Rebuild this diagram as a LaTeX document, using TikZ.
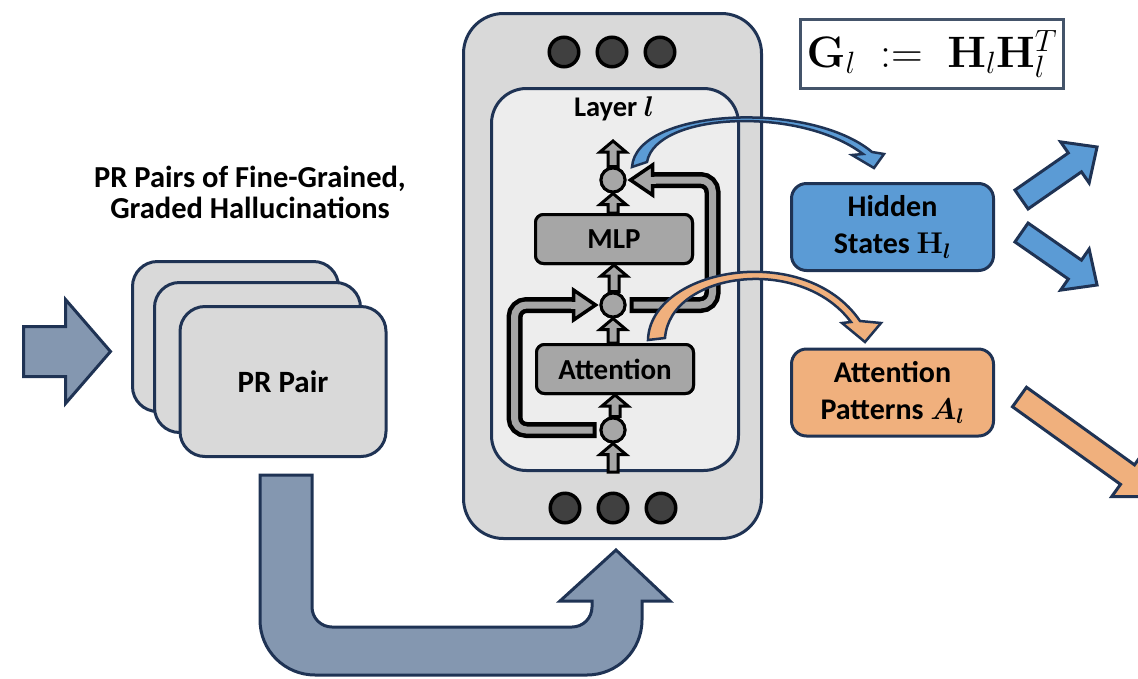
\RequirePackage{fix-cm}
\documentclass[tikz,border=0pt]{standalone}
\usepackage[no-math]{fontspec}
\setmainfont{Carlito}
\usepackage{bm}
\usetikzlibrary{calc}

\definecolor{navy}{HTML}{1F3354}
\definecolor{slate}{HTML}{8497B0}
\definecolor{cardgray}{HTML}{D9D9D9}
\definecolor{layergray}{HTML}{EDEDED}
\definecolor{blkgray}{HTML}{A6A6A6}
\definecolor{dotgray}{HTML}{404040}
\definecolor{hidblue}{HTML}{5B9BD5}
\definecolor{attorange}{HTML}{F0B07D}
\definecolor{gramedge}{HTML}{44546A}

\tikzset{
  txt/.style={font=\fontsize{30}{37}\selectfont\bfseries, align=center},
  card/.style={draw=navy, line width=3pt, fill=cardgray, rounded corners=25pt,
    minimum width=206pt, minimum height=150pt, txt},
  device/.style={draw=navy, line width=3pt, fill=cardgray, rounded corners=40pt,
    minimum width=298pt, minimum height=525pt},
  layerbox/.style={draw=navy, line width=3pt, fill=layergray, rounded corners=35pt,
    minimum width=247pt, minimum height=382pt},
  dot/.style={circle, draw=black, line width=3.5pt, fill=dotgray, minimum size=29.5pt, inner sep=0pt},
  addc/.style={circle, draw=black, line width=3pt, fill=blkgray, minimum size=24pt, inner sep=0pt},
  block/.style={draw=black, line width=3pt, fill=blkgray, rounded corners=8pt,
    minimum width=157pt, minimum height=49pt, font=\fontsize{29}{34}\selectfont\bfseries},
  outbox/.style={draw=navy, line width=3pt, rounded corners=15pt,
    minimum width=202pt, minimum height=87pt, txt},
  gram/.style={draw=gramedge, line width=2.5pt, fill=white,
    minimum width=263pt, minimum height=69pt, inner sep=0pt, font=\fontsize{44}{48}\selectfont},
  blkarrow/.style={draw=black, line width=3pt, fill=blkgray, line join=miter},
  loopblack/.style={draw=black, line width=16pt, rounded corners=12pt},
  loopgray/.style={draw=blkgray, line width=7pt, rounded corners=12pt},
  loophead/.style={draw=black, line width=3.5pt, fill=blkgray, line join=miter},
  slatearrow/.style={draw=navy, line width=3pt, fill=slate, line join=miter},
  bluearrow/.style={draw=navy, line width=3pt, fill=hidblue, line join=miter},
  orangearrow/.style={draw=navy, line width=3pt, fill=attorange, line join=miter},
  ribbon/.style={draw=navy, line width=2.5pt, line join=miter}
}

% small hollow arrow pointing up, from #1 to the tip #2
\newcommand{\blkup}[2]{%
  \draw[blkarrow] let \p1=(#1), \p2=(#2) in
    (\x2-5pt,\y1) -- (\x2-5pt,\y2-11pt) -- (\x2-13pt,\y2-11pt) -- (\x2,\y2)
    -- (\x2+13pt,\y2-11pt) -- (\x2+5pt,\y2-11pt) -- (\x2+5pt,\y1) -- cycle;}

% fat arrow: tail, angle, length, head length, shaft half width, head half width, style
\newcommand{\fatarrow}[7]{%
  \draw[#7, shift={#1}, rotate=#2] (0,-#5) -- (#3-#4,-#5) -- (#3-#4,-#6) -- (#3,0)
    -- (#3-#4,#6) -- (#3-#4,#5) -- (0,#5) -- cycle;}

\begin{document}
\begin{tikzpicture}[x=1pt, y=-1pt]
\clip (0,0) rectangle (1138,678);

% input arrow and the stack of pairs
\fatarrow{(23.5,351.5)}{0}{87}{45}{25}{52}{slatearrow}
\node[txt, font=\fontsize{30.5}{31}\selectfont\bfseries] (title) at (250,192)
  {PR Pairs of Fine-Grained,\\Graded Hallucinations};
\node[card] (card3) at (235.5,336.5) {};
\node[card] (card2) at (257.5,357.5) {};
\node[card, font=\fontsize{31}{36}\selectfont\bfseries] (card1) at (283,381.5) {PR Pair};

% the pair goes into the model
\draw[slatearrow] (260,475) -- (312,475) -- (312,607) arc[start angle=180, end angle=90, radius=20]
  -- (572,627) arc[start angle=90, end angle=0, radius=20] -- (592,601) -- (560,601)
  -- (616,550) -- (670,601) -- (642,601) -- (642,620) arc[start angle=0, end angle=90, radius=55]
  -- (315,675) arc[start angle=90, end angle=180, radius=55] -- cycle;

% the model
\node[device] (dev) at (612.5,276) {};
\foreach \x in {564,612,660}
  \node[dot] (top\x) at (\x,52) {};
\foreach \x in {565,613,661}
  \node[dot] (bot\x) at (\x,508) {};
\node[layerbox] (layer) at (615,279.5) {};
\node[txt, font=\fontsize{28.5}{32}\selectfont\bfseries] (lname) at (614,109) {Layer $\bm{l}$};

% one transformer layer
\coordinate (lin) at (613,472);
\coordinate (lout) at (613,141);
\node[addc] (c1) at (613,180) {};
\node[addc] (c2) at (613,305) {};
\node[addc] (c3) at (613,430) {};
\node[block] (mlp) at (614,239) {MLP};
\node[block] (attn) at (615,369) {Attention};

% residual paths
\draw[loopblack, shorten >=21pt] ($(c3.west)+(-3,0)$) -- ++(-82,0) |- ($(c2.west)+(-4,0)$);
\draw[loopgray, shorten <=4pt, shorten >=21pt] ($(c3.west)+(-3,0)$) -- ++(-82,0) |- ($(c2.west)+(-4,0)$);
\coordinate (t1) at ($(c2.west)+(-4,0)$);
\draw[loophead] (t1) -- ++(-22,-15) -- ++(0,30) -- cycle;
\fill[blkgray] ($(t1)+(-25,-3.5)$) rectangle ($(t1)+(-19,3.5)$);
\draw[loopblack, shorten >=21pt] ($(c2.east)+(3,0)$) -- ++(83,0) |- ($(c1.east)+(4,0)$);
\draw[loopgray, shorten <=4pt, shorten >=21pt] ($(c2.east)+(3,0)$) -- ++(83,0) |- ($(c1.east)+(4,0)$);
\coordinate (t2) at ($(c1.east)+(4,0)$);
\draw[loophead] (t2) -- ++(22,-15) -- ++(0,30) -- cycle;
\fill[blkgray] ($(t2)+(19,-3.5)$) rectangle ($(t2)+(25,3.5)$);

% main stream
\blkup{lin}{c3.south}
\blkup{c3.north}{attn.south}
\blkup{attn.north}{c2.south}
\blkup{c2.north}{mlp.south}
\blkup{mlp.north}{c1.south}
\blkup{c1.north}{lout}
\node[addc] at (c1) {};
\node[addc] at (c2) {};
\node[addc] at (c3) {};
\node[block] at (mlp) {MLP};
\node[block] at (attn) {Attention};

% what is read out of the layer
\node[outbox, fill=hidblue] (hid) at (892.5,227) {Hidden\\States $\mathbf{H}_{\bm{l}}$};
\node[outbox, fill=attorange] (apat) at (892.5,392.5) {Attention\\Patterns $\bm{A_l}$};
\draw[ribbon, fill=hidblue] (632,167) .. controls (636,108) and (810,100) .. (872,152)
  -- (884,154) -- (874,168) -- (852,155) -- (863,154)
  .. controls (800,106) and (656,112) .. (647,162) -- cycle;
\draw[ribbon, fill=attorange] (648,340) .. controls (650,268) and (805,240) .. (860,321)
  -- (881,323) -- (865,342) -- (842,323) -- (851,322)
  .. controls (800,254) and (670,272) .. (665,338) -- cycle;

\node[gram] (gramm) at (932,54) {$\mathbf{G}_l \;:=\; \mathbf{H}_l\mathbf{H}_l^T$};

% onwards
\fatarrow{(1021.5,199.5)}{34.8}{92}{27}{11.5}{25}{bluearrow}
\fatarrow{(1021.5,232.5)}{-34.8}{92}{27}{11.5}{25}{bluearrow}
\fatarrow{(1019.5,397)}{-35.7}{171}{38}{12}{27}{orangearrow}
\end{tikzpicture}
\end{document}
